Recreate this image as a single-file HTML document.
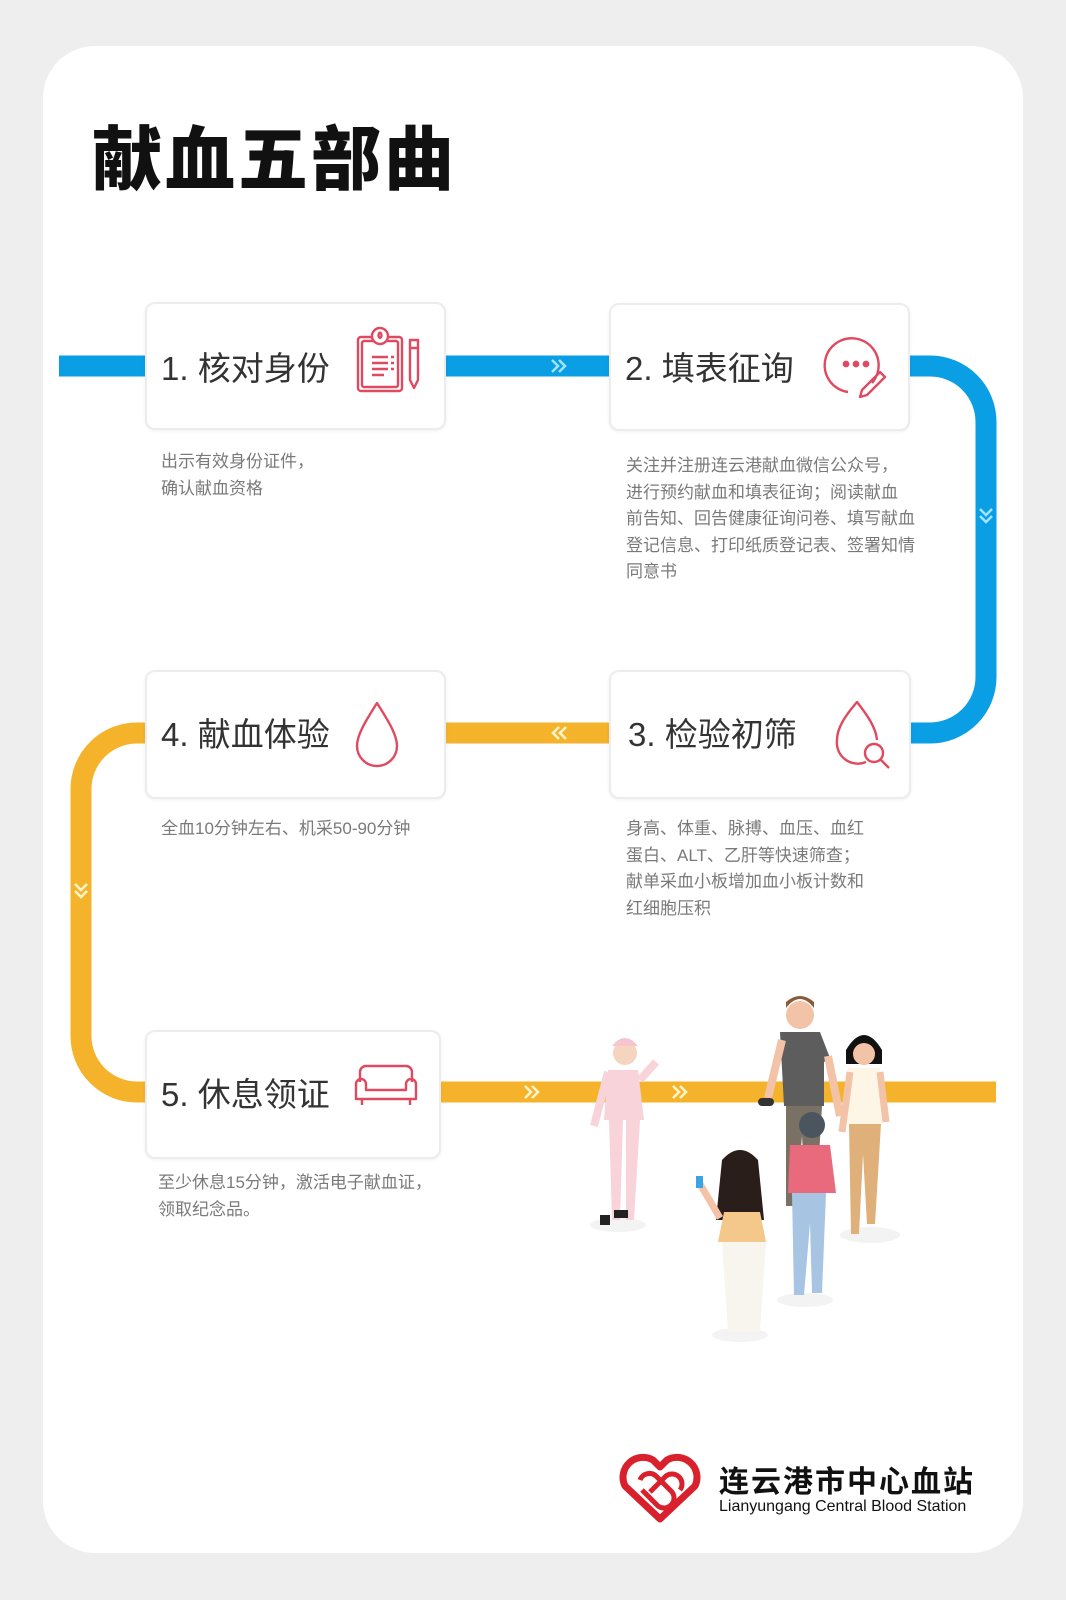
<!DOCTYPE html>
<html><head><meta charset="utf-8"><style>
html,body{margin:0;padding:0;}
body{width:1066px;height:1600px;background:#eeeeee;position:relative;overflow:hidden;font-family:"Liberation Sans","Noto Sans CJK SC",sans-serif;}
.panel{position:absolute;left:43px;top:46px;width:980px;height:1507px;background:#fff;border-radius:52px;}
.t{position:absolute;left:92px;top:104px;font-size:70px;font-weight:900;color:#111;letter-spacing:3px;font-family:"Noto Sans CJK SC",sans-serif;}
.card{position:absolute;background:#fff;border:2px solid #ececec;border-radius:10px;box-shadow:0 1px 3px rgba(0,0,0,0.06);}
.lbl{position:absolute;font-size:33px;color:#333;font-family:"Liberation Sans","Noto Sans CJK SC",sans-serif;white-space:nowrap;}
.d{position:absolute;font-size:17px;color:#7a7a7a;line-height:26.5px;font-family:"Liberation Sans","Noto Sans CJK SC",sans-serif;white-space:nowrap;}
svg{position:absolute;left:0;top:0;}
</style></head><body>
<div class="panel"></div>
<div class="t">献血五部曲</div>

<svg width="1066" height="1600" viewBox="0 0 1066 1600">
 <g fill="none" stroke-linecap="butt">
  <path d="M59 366 H930 A56 56 0 0 1 986 422 V677 A56 56 0 0 1 930 733 H860" stroke="#0a9ee4" stroke-width="21"/>
  <path d="M860 733 H137 A56 56 0 0 0 81 789 V1036 A56 56 0 0 0 137 1092 H996" stroke="#f4b32b" stroke-width="21"/>
 </g>
 <g fill="none" stroke="#9fe3ff" stroke-width="2.6">
  <path d="M552 360 L558 366 L552 372 M559 360 L565 366 L559 372"/>
  <path d="M980 509 L986 515 L992 509 M980 516 L986 522 L992 516"/>
 </g>
 <g fill="none" stroke="#fff3c8" stroke-width="2.6">
  <path d="M566 727 L560 733 L566 739 M559 727 L553 733 L559 739"/>
  <path d="M75 884 L81 890 L87 884 M75 891 L81 897 L87 891"/>
  <path d="M525 1086 L531 1092 L525 1098 M532 1086 L538 1092 L532 1098"/>
  <path d="M673 1086 L679 1092 L673 1098 M680 1086 L686 1092 L680 1098"/>
 </g>
</svg>

<div class="card" style="left:145px;top:302px;width:297px;height:124px;"></div>
<div class="card" style="left:609px;top:303px;width:297px;height:124px;"></div>
<div class="card" style="left:609px;top:670px;width:298px;height:125px;"></div>
<div class="card" style="left:145px;top:670px;width:297px;height:125px;"></div>
<div class="card" style="left:145px;top:1030px;width:292px;height:125px;"></div>

<div class="lbl" style="left:161px;top:342px;">1. 核对身份</div>
<div class="lbl" style="left:625px;top:342px;">2. 填表征询</div>
<div class="lbl" style="left:628px;top:708px;">3. 检验初筛</div>
<div class="lbl" style="left:161px;top:708px;">4. 献血体验</div>
<div class="lbl" style="left:161px;top:1068px;">5. 休息领证</div>

<svg width="1066" height="1600" viewBox="0 0 1066 1600">
 <g fill="none" stroke="#e04a60" stroke-width="2.4" stroke-linejoin="round">
  <rect x="358" y="337" width="44" height="54" rx="3"/>
  <rect x="362" y="341" width="36" height="46" rx="2"/>
  <circle cx="380" cy="336" r="8" fill="#fff"/>
  <path d="M380 332 q-3 4 0 6 q3 -2 0 -6"/>
  <path d="M372 357 h16 M372 363 h16 M372 369 h16 M372 375 h12 M391 357h3 M391 363h3 M391 369h3"/>
  <path d="M410 340 h8 v40 l-4 8 l-4 -8 z M410 348 h8"/>
  <path d="M872 383 A27 27 0 1 0 848 392"/>
  <circle cx="846" cy="364" r="2.2" fill="#e04a60"/><circle cx="856" cy="364" r="2.2" fill="#e04a60"/><circle cx="866" cy="364" r="2.2" fill="#e04a60"/>
  <path d="M880 372 l5 5 l-18 18 l-7 2 l2 -7 z"/>
  <!-- drop search -->
  <path d="M866 762 A21 21 0 0 1 837 740 C837 728 845 716 857 702 C868 716 876 728 877 740"/>
  <circle cx="874" cy="753" r="9"/>
  <path d="M881 760 l8 8"/>
  <path d="M377 703 C365 722 357 735 357 746 A20 20 0 0 0 397 746 C397 735 389 722 377 703 z"/>
  <path d="M360 1082 v-10 a6 6 0 0 1 6 -6 h40 a6 6 0 0 1 6 6 v10"/>
  <path d="M356 1084 a5 5 0 0 1 10 0 v6 h40 v-6 a5 5 0 0 1 10 0 v15 h-60 z"/>
  <path d="M362 1099 v6 M410 1099 v6"/>
 </g>
</svg>

<div class="d" style="left:161px;top:449px;">出示有效身份证件，<br>确认献血资格</div>
<div class="d" style="left:626px;top:453px;">关注并注册连云港献血微信公众号，<br>进行预约献血和填表征询；阅读献血<br>前告知、回告健康征询问卷、填写献血<br>登记信息、打印纸质登记表、签署知情<br>同意书</div>
<div class="d" style="left:161px;top:816px;">全血10分钟左右、机采50-90分钟</div>
<div class="d" style="left:626px;top:816px;">身高、体重、脉搏、血压、血红<br>蛋白、ALT、乙肝等快速筛查；<br>献单采血小板增加血小板计数和<br>红细胞压积</div>
<div class="d" style="left:158px;top:1170px;">至少休息15分钟，激活电子献血证，<br>领取纪念品。</div>

<svg width="1066" height="1600" viewBox="0 0 1066 1600">
 <g>
  <ellipse cx="618" cy="1225" rx="28" ry="7" fill="#f3f3f3"/>
  <ellipse cx="870" cy="1235" rx="30" ry="8" fill="#f3f3f3"/>
  <ellipse cx="805" cy="1300" rx="28" ry="7" fill="#f3f3f3"/>
  <ellipse cx="740" cy="1335" rx="28" ry="7" fill="#f3f3f3"/>
  <circle cx="625" cy="1053" r="12" fill="#f6d5c0"/>
  <path d="M612 1046 q13 -16 26 0 z" fill="#f5c6cf"/>
  <path d="M608 1070 h30 l6 50 h-40 z" fill="#f8d3da"/>
  <path d="M609 1120 h14 l-3 100 h-8 z M626 1120 h14 l-6 100 h-8 z" fill="#f8d3da"/>
  <path d="M608 1072 l-14 54 M640 1080 l16 -18" stroke="#f8d3da" stroke-width="8"/>
  <rect x="600" y="1215" width="10" height="10" fill="#222"/><rect x="614" y="1210" width="14" height="8" fill="#222"/>
  <circle cx="800" cy="1015" r="14" fill="#f3c3a8"/>
  <path d="M786 1008 q14 -18 28 0 l0 -6 q-14 -12 -28 0z" fill="#8a5a3a"/>
  <path d="M780 1032 h40 l10 26 l-6 4 v44 h-40 z" fill="#5d5d5d"/>
  <path d="M786 1106 h36 l-6 100 h-10 l-4 -70 l-6 70 h-10 z" fill="#7a7064"/>
  <path d="M782 1040 l-14 58 M828 1056 l12 60" stroke="#f3c3a8" stroke-width="8"/>
  <rect x="758" y="1098" width="16" height="8" rx="4" fill="#333"/>
  <path d="M846 1050 q18 -30 36 0 v14 h-36 z" fill="#111"/>
  <circle cx="864" cy="1054" r="11" fill="#f3c3a8"/>
  <path d="M848 1068 h32 l2 56 h-36 z" fill="#fdf6e6"/>
  <path d="M849 1124 h32 l-6 100 h-8 l-4 -70 l-4 80 h-8 z" fill="#e0b07a"/>
  <path d="M850 1072 l-8 60 M880 1072 l6 50" stroke="#f3c3a8" stroke-width="7"/>
  <circle cx="812" cy="1125" r="13" fill="#4b5560"/>
  <path d="M790 1145 h40 l6 48 h-48 z" fill="#e86a7c"/>
  <path d="M792 1193 h34 l-4 100 h-10 l-2 -70 l-6 72 h-10 z" fill="#a7c4e3"/>
  <path d="M722 1160 q18 -20 36 0 l6 60 h-48 z" fill="#2a1e1a"/>
  <path d="M724 1212 h36 l6 30 h-48 z" fill="#f4c88a"/>
  <path d="M722 1242 h44 l-6 90 h-32 z" fill="#f8f4ee"/>
  <path d="M720 1218 l-20 -34" stroke="#f3c3a8" stroke-width="7"/>
  <rect x="696" y="1176" width="7" height="12" fill="#3ba4e6"/>
 </g>
</svg>

<svg width="1066" height="1600" viewBox="0 0 1066 1600">
 <g fill="none" stroke="#d9202d" stroke-width="7" stroke-linejoin="round">
  <path d="M660 1519 L625 1486 A20 20 0 0 1 653 1460 L660 1467 L667 1460 A20 20 0 0 1 695 1486 Z"/>
  <path d="M640 1480 a10 10 0 0 1 16 -4 l16 16 a10 10 0 0 1 -14 14 l-16 -16" stroke-width="5"/>
  <path d="M650 1492 l16 -16 a10 10 0 0 1 14 14" stroke-width="5"/>
 </g>
</svg>
<div style="position:absolute;left:719px;top:1462px;font-size:30px;font-weight:bold;color:#111;letter-spacing:2px;font-family:'Noto Sans CJK SC',sans-serif;line-height:34px;white-space:nowrap;">连云港市中心血站</div>
<div style="position:absolute;left:719px;top:1498px;font-size:16px;color:#111;white-space:nowrap;">Lianyungang Central Blood Station</div>
</body></html>
